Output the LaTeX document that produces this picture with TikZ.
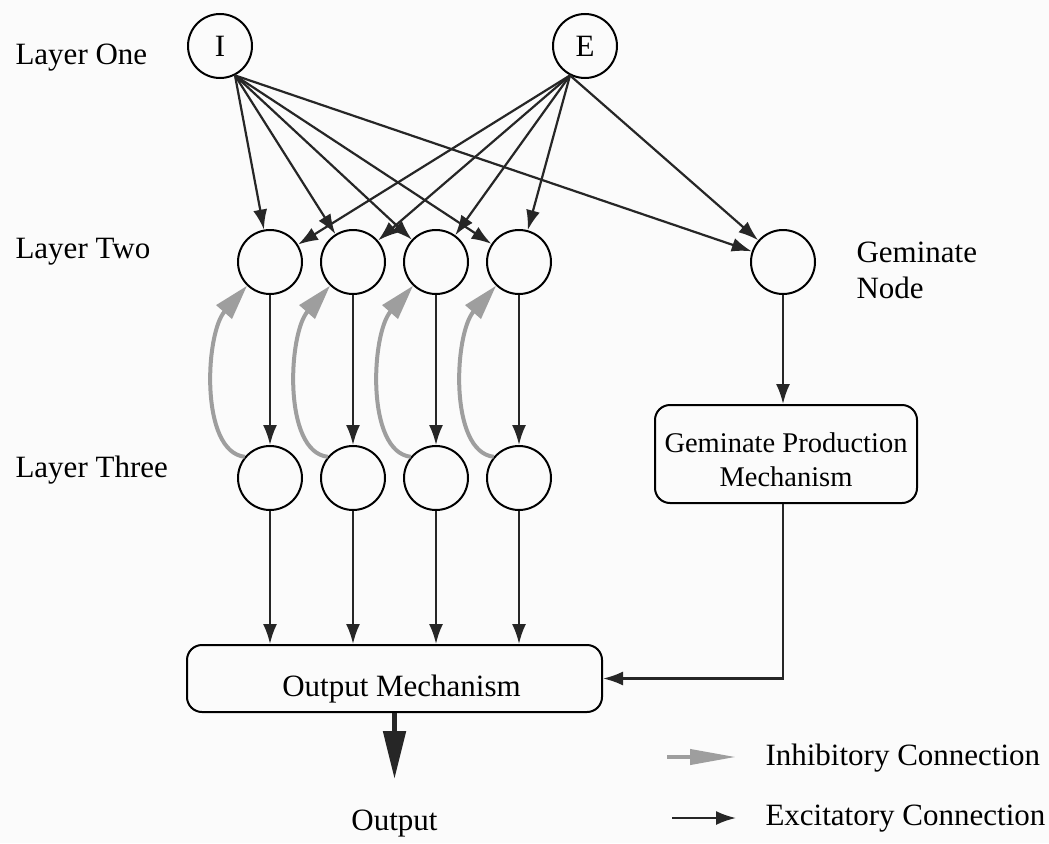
\documentclass[tikz,border=0pt]{standalone}
\usepackage{fontspec}
\setmainfont{Liberation Serif}
\usetikzlibrary{arrows.meta,calc}
\begin{document}
\begin{tikzpicture}[x=1pt,y=-1pt,
  every node/.style={font=\fontsize{31}{34}\selectfont},
  neuron/.style={circle,draw,line width=2pt,minimum size=64pt,inner sep=0pt},
  mech/.style={draw,rounded corners=15pt,line width=2pt,align=center,inner sep=0pt},
  exc/.style={draw=black!85,line width=2.2pt,-{Latex[length=20pt,width=14pt]}},
  inh/.style={draw=black!38,line width=4pt,-{Triangle[length=35pt,width=20pt]}},
  inhkey/.style={draw=black!38,line width=4pt,-{Triangle[length=46pt,width=15pt]}},
  bigarrow/.style={draw=black!85,line width=5pt,-{Triangle[length=48pt,width=22pt]}},
  lbl/.style={anchor=base west}
]
% canvas
\fill[gray!3] (0,0) rectangle (1049,843);
\useasboundingbox (0,0) rectangle (1049,843);

% layer captions
\node[lbl] (l1) at (12,65) {Layer One};
\node[lbl] (l2) at (12,258) {Layer Two};
\node[lbl] (l3) at (12,477) {Layer Three};

% layer one
\node[neuron] (I) at (220,46) {I};
\node[neuron] (E) at (585,46) {E};

% layer two and three
\foreach \n/\x in {1/270,2/353,3/436,4/519}{
  \node[neuron] (a\n) at (\x,262) {};
  \node[neuron] (b\n) at (\x,478) {};
}

% geminate node
\node[neuron] (g) at (783,262) {};
\node[lbl] (glbl1) at (853,262) {Geminate};
\node[lbl] (glbl2) at (853,298) {Node};

% mechanisms
\node[mech,minimum width=262pt,minimum height=98pt,font=\fontsize{28.5}{34}\selectfont] (gpm) at (786,454)
  {\rule{0pt}{32pt}Geminate Production\\Mechanism};
\node[mech,minimum width=415pt,minimum height=67pt,text height=40pt,text depth=5pt] (om) at (394.5,678.5)
  {\hspace*{14pt}Output Mechanism};
\node[anchor=base] (outlbl) at (394.5,830) {Output};
\coordinate (otip) at (394.5,779);

% layer one to layer two and geminate node
\coordinate (Iout) at (I.297);
\coordinate (Eout) at (E.243);
\foreach \t in {a1,a2,a3,a4,g}{
  \draw[exc] (Iout) -- (\t);
  \draw[exc] (Eout) -- (\t);
}

% layer two to three, three to output
\foreach \n in {1,2,3,4}{
  \draw[exc] (a\n) -- (b\n);
  \draw[exc] (b\n) -- (b\n |- om.north);
  % self inhibition from layer three back to layer two
  \coordinate (s\n) at (b\n.140);
  \coordinate (e\n) at (a\n.226);
  \draw[inh] (s\n) .. controls ($(s\n)+(-45,-5)$) and ($(e\n)+(-42,48)$) .. (e\n);
}

% geminate path
\draw[exc] (g) -- (g |- gpm.north);
\draw[exc] (g |- gpm.south) |- (om.east);

% final output
\draw[bigarrow] (om.south) -- (otip);

% key
\coordinate (ki1) at (667,757);
\coordinate (ki2) at (736,757);
\coordinate (ke1) at (672,818);
\coordinate (ke2) at (736,818);
\draw[inhkey] (ki1) -- (ki2);
\draw[exc] (ke1) -- (ke2);
\node[lbl] (kil) at (762,765) {Inhibitory Connection};
\node[lbl] (kel) at (762,825) {Excitatory Connection};
\end{tikzpicture}
\end{document}
